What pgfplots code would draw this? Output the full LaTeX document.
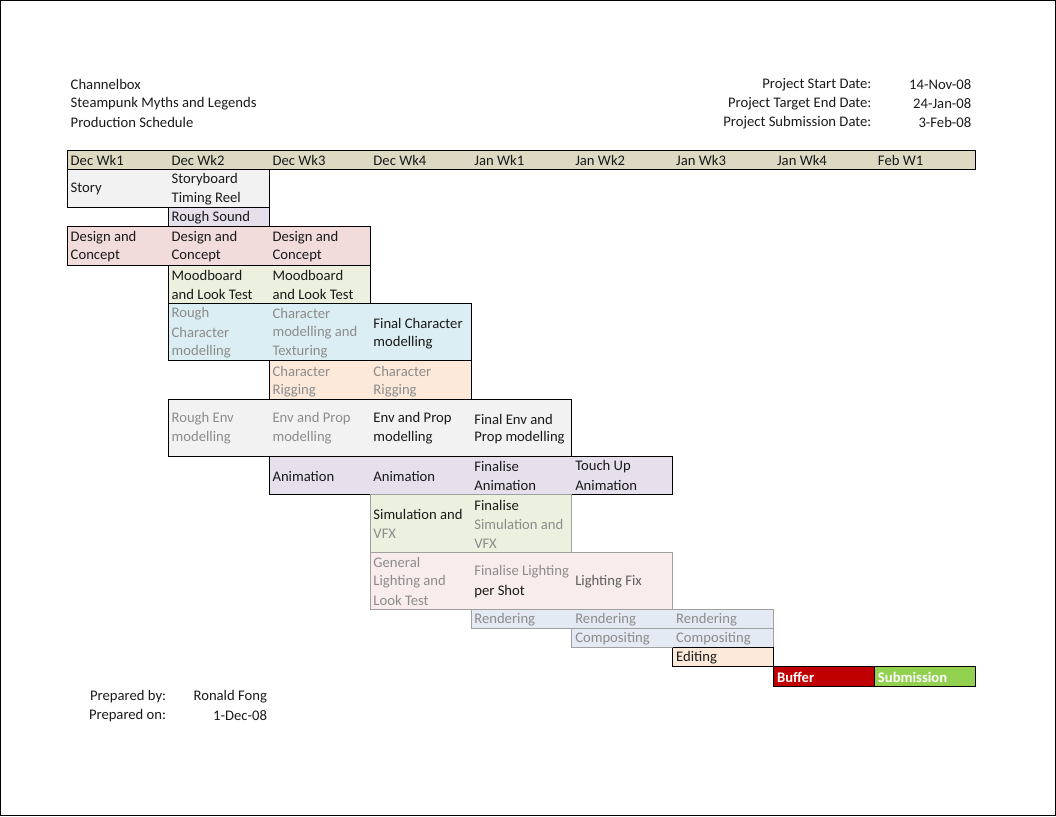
\documentclass[border=0pt]{standalone}
\usepackage{pgfplots}
\pgfplotsset{compat=1.18}
\usepackage{fontspec}
\setmainfont{Carlito}
\definecolor{hdr}{HTML}{DDD9C3}
\definecolor{lgray}{HTML}{F2F2F2}
\definecolor{lav}{HTML}{E5E0EC}
\definecolor{pink}{HTML}{F2DCDB}
\definecolor{lgreen}{HTML}{EBF1DE}
\definecolor{lblue}{HTML}{DBEEF3}
\definecolor{peach}{HTML}{FDE9D9}
\definecolor{rend}{HTML}{E3EAF3}
\definecolor{lpink}{HTML}{F8ECEC}
\definecolor{bufred}{HTML}{C00000}
\definecolor{subgreen}{HTML}{92D050}
\definecolor{txt}{HTML}{1A1A1A}
\definecolor{wm}{HTML}{8C8C8C}
\definecolor{wmline}{HTML}{A0A0A0}
\tikzset{
  cell/.style={anchor=west, inner sep=0pt, text=txt, font=\fontsize{11}{13}\selectfont},
  cellr/.style={anchor=east, inner sep=0pt, text=txt, font=\fontsize{11}{13}\selectfont},
  wcell/.style={cell, text=wm},
  bcell/.style={anchor=west, inner sep=0pt, text=white, font=\fontsize{11}{13}\selectfont\bfseries},
}
\begin{document}
\begin{tikzpicture}
\begin{axis}[
  scale only axis, width=792pt, height=612pt,
  xmin=-0.6634, xmax=9.7921, ymin=-7.833, ymax=34.778, y dir=reverse,
  xtick=\empty, ytick=\empty,
  axis line style={black, line width=0.75pt},
  no markers, clip=false,
  every axis plot/.append style={line width=0.75pt},
]
% header row
\addplot[fill=hdr, draw=black] coordinates {(0,0) (9,0) (9,1) (0,1) (0,0)};
% Story
\addplot[fill=lgray, draw=black] coordinates {(0,1) (2,1) (2,3) (0,3) (0,1)};
% Rough Sound
\addplot[fill=lav, draw=black] coordinates {(1,3) (2,3) (2,4) (1,4) (1,3)};
% Design and Concept
\addplot[fill=pink, draw=black] coordinates {(0,4) (3,4) (3,6) (0,6) (0,4)};
% Moodboard
\addplot[fill=lgreen, draw=black] coordinates {(1,6) (3,6) (3,8) (1,8) (1,6)};
% Character modelling
\addplot[fill=lblue, draw=black] coordinates {(1,8) (4,8) (4,11) (1,11) (1,8)};
% Character rigging
\addplot[fill=peach, draw=black] coordinates {(2,11) (4,11) (4,13) (2,13) (2,11)};
% Env modelling
\addplot[fill=lgray, draw=black] coordinates {(1,13) (5,13) (5,16) (1,16) (1,13)};
% Animation
\addplot[fill=lav, draw=black] coordinates {(2,16) (6,16) (6,18) (2,18) (2,16)};
% Simulation
\addplot[fill=lgreen, draw=wmline] coordinates {(3,18) (5,18) (5,21) (3,21) (3,18)};
% Lighting
\addplot[fill=lpink, draw=wmline] coordinates {(3,21) (6,21) (6,24) (3,24) (3,21)};
% Rendering
\addplot[fill=rend, draw=wmline] coordinates {(4,24) (7,24) (7,25) (4,25) (4,24)};
% Compositing
\addplot[fill=rend, draw=wmline] coordinates {(5,25) (7,25) (7,26) (5,26) (5,25)};
% Editing
\addplot[fill=peach, draw=black] coordinates {(6,26) (7,26) (7,27) (6,27) (6,26)};
% Buffer and Submission
\addplot[fill=bufred, draw=black] coordinates {(7,27) (8,27) (8,28) (7,28) (7,27)};
\addplot[fill=subgreen, draw=black] coordinates {(8,27) (9,27) (9,28) (8,28) (8,27)};
% top-left titles
\node[cell] at (axis cs:0.03,-3.45) {Channelbox};
\node[cell] at (axis cs:0.03,-2.45) {Steampunk Myths and Legends};
\node[cell] at (axis cs:0.03,-1.45) {Production Schedule};
% top-right dates
\node[cellr] at (axis cs:7.97,-3.45) {Project Start Date:};
\node[cellr] at (axis cs:7.97,-2.45) {Project Target End Date:};
\node[cellr] at (axis cs:7.97,-1.45) {Project Submission Date:};
\node[cellr] at (axis cs:8.96,-3.45) {14-Nov-08};
\node[cellr] at (axis cs:8.96,-2.45) {24-Jan-08};
\node[cellr] at (axis cs:8.96,-1.45) {3-Feb-08};
% week headers
\node[cell] at (axis cs:0.03,0.52) {Dec Wk1};
\node[cell] at (axis cs:1.03,0.52) {Dec Wk2};
\node[cell] at (axis cs:2.03,0.52) {Dec Wk3};
\node[cell] at (axis cs:3.03,0.52) {Dec Wk4};
\node[cell] at (axis cs:4.03,0.52) {Jan Wk1};
\node[cell] at (axis cs:5.03,0.52) {Jan Wk2};
\node[cell] at (axis cs:6.03,0.52) {Jan Wk3};
\node[cell] at (axis cs:7.03,0.52) {Jan Wk4};
\node[cell] at (axis cs:8.03,0.52) {Feb W1};
% tasks
\node[cell] at (axis cs:0.03,2.04) {Story};
\node[cell] at (axis cs:1.03,1.54) {Storyboard};
\node[cell] at (axis cs:1.03,2.54) {Timing Reel};
\node[cell] at (axis cs:1.03,3.54) {Rough Sound};
\node[cell] at (axis cs:0.03,4.54) {Design and};
\node[cell] at (axis cs:0.03,5.54) {Concept};
\node[cell] at (axis cs:1.03,4.54) {Design and};
\node[cell] at (axis cs:1.03,5.54) {Concept};
\node[cell] at (axis cs:2.03,4.54) {Design and};
\node[cell] at (axis cs:2.03,5.54) {Concept};
\node[cell] at (axis cs:1.03,6.54) {Moodboard};
\node[cell] at (axis cs:1.03,7.54) {and Look Test};
\node[cell] at (axis cs:2.03,6.54) {Moodboard};
\node[cell] at (axis cs:2.03,7.54) {and Look Test};
\node[wcell] at (axis cs:1.03,8.54) {Rough};
\node[wcell] at (axis cs:1.03,9.54) {Character};
\node[wcell] at (axis cs:1.03,10.54) {modelling};
\node[wcell] at (axis cs:2.03,8.54) {Character};
\node[wcell] at (axis cs:2.03,9.54) {modelling and};
\node[wcell] at (axis cs:2.03,10.54) {Texturing};
\node[cell] at (axis cs:3.03,9.04) {Final Character};
\node[cell] at (axis cs:3.03,10.04) {modelling};
\node[wcell] at (axis cs:2.03,11.54) {Character};
\node[wcell] at (axis cs:2.03,12.54) {Rigging};
\node[wcell] at (axis cs:3.03,11.54) {Character};
\node[wcell] at (axis cs:3.03,12.54) {Rigging};
\node[wcell] at (axis cs:1.03,14.04) {Rough Env};
\node[wcell] at (axis cs:1.03,15.04) {modelling};
\node[wcell] at (axis cs:2.03,14.04) {Env and Prop};
\node[wcell] at (axis cs:2.03,15.04) {modelling};
\node[cell] at (axis cs:3.03,14.04) {Env and Prop};
\node[cell] at (axis cs:3.03,15.04) {modelling};
\node[cell] at (axis cs:4.03,14.04) {Final Env and};
\node[cell] at (axis cs:4.03,15.04) {Prop modelling};
\node[cell] at (axis cs:2.03,17.04) {Animation};
\node[cell] at (axis cs:3.03,17.04) {Animation};
\node[cell] at (axis cs:4.03,16.54) {Finalise};
\node[cell] at (axis cs:4.03,17.54) {Animation};
\node[cell] at (axis cs:5.03,16.54) {Touch Up};
\node[cell] at (axis cs:5.03,17.54) {Animation};
\node[cell] at (axis cs:3.03,19.04) {Simulation and};
\node[wcell] at (axis cs:3.03,20.04) {VFX};
\node[cell] at (axis cs:4.03,18.54) {Finalise};
\node[wcell] at (axis cs:4.03,19.54) {Simulation and};
\node[wcell] at (axis cs:4.03,20.54) {VFX};
\node[wcell] at (axis cs:3.03,21.54) {General};
\node[wcell] at (axis cs:3.03,22.54) {Lighting and};
\node[wcell] at (axis cs:3.03,23.54) {Look Test};
\node[wcell] at (axis cs:4.03,22.04) {Finalise Lighting};
\node[cell] at (axis cs:4.03,23.04) {per Shot};
\node[cell, text=wm!60!txt] at (axis cs:5.03,22.54) {Lighting Fix};
\node[wcell] at (axis cs:4.03,24.54) {Rendering};
\node[wcell] at (axis cs:5.03,24.54) {Rendering};
\node[wcell] at (axis cs:6.03,24.54) {Rendering};
\node[wcell] at (axis cs:5.03,25.54) {Compositing};
\node[wcell] at (axis cs:6.03,25.54) {Compositing};
\node[cell] at (axis cs:6.03,26.54) {Editing};
\node[bcell] at (axis cs:7.03,27.54) {Buffer};
\node[bcell] at (axis cs:8.03,27.54) {Submission};
% footer
\node[cellr] at (axis cs:0.98,28.54) {Prepared by:};
\node[cellr] at (axis cs:0.98,29.54) {Prepared on:};
\node[cellr] at (axis cs:1.98,28.54) {Ronald Fong};
\node[cellr] at (axis cs:1.98,29.54) {1-Dec-08};
\end{axis}
\end{tikzpicture}
\end{document}
